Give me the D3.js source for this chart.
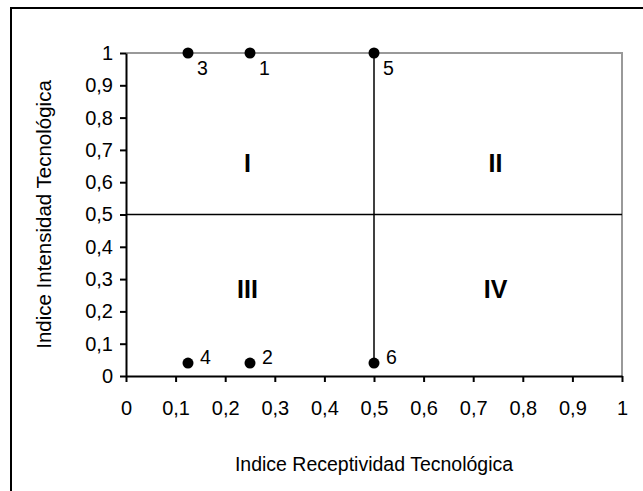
<!DOCTYPE html>
<html>
<head>
<meta charset="utf-8">
<script src="https://cdn.jsdelivr.net/npm/d3@7"></script>
<style>
  body { margin: 0; background: #fff; }
  text { font-family: "Liberation Sans", Arial, sans-serif; fill: #000; }
</style>
</head>
<body>
<div id="chart"></div>
<script>
// DATA
const pointIds = ['1', '2', '3', '4', '5', '6'];
const pointX = [0.25, 0.25, 0.125, 0.125, 0.5, 0.5];
const pointY = [1, 0.04, 1, 0.04, 1, 0.04];
const quadrantNames = ['I', 'II', 'III', 'IV'];
const quadrantX = [0.245, 0.745, 0.245, 0.745];
const quadrantY = [0.66, 0.66, 0.27, 0.27];
const tickValues = [0, 0.1, 0.2, 0.3, 0.4, 0.5, 0.6, 0.7, 0.8, 0.9, 1];
const tickLabels = ['0', '0,1', '0,2', '0,3', '0,4', '0,5', '0,6', '0,7', '0,8', '0,9', '1'];

const width = 643;
const height = 491;

const svg = d3.select('#chart').append('svg')
  .attr('width', width)
  .attr('height', height);

// outer frame (runs off the right / bottom edge)
svg.append('rect')
  .attr('x', 11).attr('y', 8)
  .attr('width', 700).attr('height', 600)
  .style('fill', 'none')
  .style('stroke', '#000')
  .style('stroke-width', 2);

const x = d3.scaleLinear().domain([0, 1]).range([126, 622]);
const y = d3.scaleLinear().domain([0, 1]).range([376, 53]);

// plot border top + right (gray)
svg.append('path')
  .attr('d', `M${x(0)},${y(1)}H${x(1)}V${y(0)}`)
  .style('fill', 'none')
  .style('stroke', '#999')
  .style('stroke-width', 2);

// quadrant lines
svg.append('line')
  .attr('x1', x(0)).attr('x2', x(1))
  .attr('y1', y(0.5)).attr('y2', y(0.5))
  .style('stroke', '#000').style('stroke-width', 1.5);
svg.append('line')
  .attr('x1', x(pointX[4])).attr('x2', x(pointX[5]))
  .attr('y1', y(pointY[4])).attr('y2', y(pointY[5]))
  .style('stroke', '#000').style('stroke-width', 1.5);

// axes
const xAxis = d3.axisBottom(x)
  .tickValues(tickValues)
  .tickFormat((d, i) => tickLabels[i])
  .tickSize(6).tickSizeOuter(0).tickPadding(19);
const yAxis = d3.axisLeft(y)
  .tickValues(tickValues)
  .tickFormat((d, i) => tickLabels[i])
  .tickSize(6).tickSizeOuter(0).tickPadding(7);

const gx = svg.append('g').attr('transform', `translate(0,${y(0)})`).call(xAxis);
const gy = svg.append('g').attr('transform', `translate(${x(0)},0)`).call(yAxis);

[gx, gy].forEach(g => {
  g.select('.domain').style('stroke', '#000').style('stroke-width', 2);
  g.selectAll('.tick line').style('stroke', '#000').style('stroke-width', 2);
  g.selectAll('.tick text')
    .style('font-size', '20px')
    .style('fill', '#000')
    .style('font-family', '"Liberation Sans", Arial, sans-serif');
});

// quadrant labels
svg.selectAll('text.quad')
  .data(quadrantNames)
  .enter()
  .append('text')
  .attr('class', 'quad')
  .attr('x', (d, i) => x(quadrantX[i]))
  .attr('y', (d, i) => y(quadrantY[i]))
  .attr('dy', '0.35em')
  .attr('text-anchor', 'middle')
  .style('font-size', '25px')
  .style('font-weight', 'bold')
  .text(d => d);

// points
const pts = svg.selectAll('g.pt')
  .data(pointIds)
  .enter()
  .append('g')
  .attr('class', 'pt')
  .attr('transform', (d, i) => `translate(${x(pointX[i])},${y(pointY[i])})`);

pts.append('circle')
  .attr('r', 5.5)
  .style('fill', '#000');

pts.append('text')
  .attr('x', (d, i) => pointY[i] > 0.5 ? 9 : 12)
  .attr('y', (d, i) => pointY[i] > 0.5 ? 22 : 1)
  .style('font-size', '19.5px')
  .text(d => d);

// axis titles
svg.append('text')
  .attr('x', x(0.5))
  .attr('y', 471)
  .attr('text-anchor', 'middle')
  .style('font-size', '19.5px')
  .text('Indice Receptividad Tecnológica');

svg.append('text')
  .attr('transform', `translate(51,${y(0.5)}) rotate(-90)`)
  .attr('text-anchor', 'middle')
  .style('font-size', '20.5px')
  .text('Indice Intensidad Tecnológica');
</script>
</body>
</html>
